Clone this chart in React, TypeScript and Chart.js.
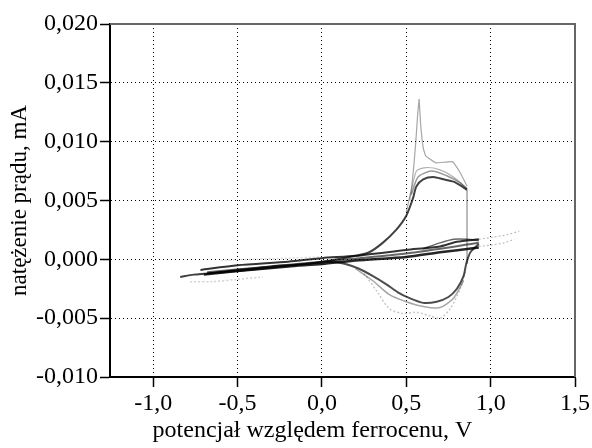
import React, { useEffect, useRef } from "react";
import { Chart, registerables } from "chart.js";

Chart.register(...registerables);

const X_TITLE = "potencjał względem ferrocenu, V";
const Y_TITLE = "natężenie prądu, mA";
const FONT = '"Liberation Serif", "Times New Roman", serif';

// main cycle: anodic sweep
const mainAnodicE = [-0.84, -0.76, -0.68, -0.5, -0.3, -0.1, 0.05, 0.2, 0.28, 0.36, 0.44, 0.5, 0.54, 0.56, 0.6, 0.66, 0.72, 0.78, 0.83, 0.86];
const mainAnodicI = [-0.0015, -0.0013, -0.0012, -0.0009, -0.0006, -0.0004, -0.0001, 0.0003, 0.0006, 0.0014, 0.0025, 0.0037, 0.0052, 0.0062, 0.0068, 0.007, 0.0068, 0.0066, 0.0062, 0.0059];
// switching edge
const switchE = [0.86, 0.86];
const switchI = [0.0059, -0.0004];
// main cycle: cathodic sweep
const mainCathodicE = [0.93, 0.88, 0.855, 0.84, 0.8, 0.75, 0.68, 0.6, 0.52, 0.45, 0.38, 0.3, 0.22, 0.14, 0.05, -0.1, -0.3, -0.5, -0.68];
const mainCathodicI = [0.0013, 0.0006, -0.0004, -0.0014, -0.0025, -0.0032, -0.0036, -0.0037, -0.0033, -0.0028, -0.0021, -0.0014, -0.0008, -0.0004, -0.0002, -0.0004, -0.0007, -0.001, -0.0012];
// dense band of background cycles
const bandUpperE = [-0.72, -0.5, -0.2, 0.0, 0.2, 0.5, 0.7, 0.8, 0.93];
const bandUpperI = [-0.0009, -0.0005, -0.0002, 0.0001, 0.0003, 0.0008, 0.0011, 0.0015, 0.0017];
const bandLowerE = [-0.7, -0.5, -0.2, 0.0, 0.2, 0.5, 0.7, 0.93];
const bandLowerI = [-0.0013, -0.001, -0.0006, -0.0004, -0.0001, 0.0002, 0.0006, 0.001];
const bandMidE = [-0.68, -0.3, 0.0, 0.5, 0.93];
const bandMidI = [-0.0011, -0.0006, -0.0002, 0.0005, 0.0014];
const bumpE = [0.6, 0.7, 0.78, 0.86, 0.93];
const bumpI = [0.0009, 0.0014, 0.0017, 0.0017, 0.0016];
// spike of first cycle
const spikeE = [0.5, 0.53, 0.545, 0.556, 0.566, 0.576, 0.585, 0.6, 0.615, 0.675, 0.773, 0.822, 0.861];
const spikeI = [0.004, 0.006, 0.008, 0.0099, 0.012, 0.0136, 0.0115, 0.0095, 0.0088, 0.0082, 0.0083, 0.0073, 0.0062];
// intermediate cycles on the anodic plateau
const plateauAE = [0.52, 0.56, 0.62, 0.7, 0.78, 0.86];
const plateauAI = [0.005, 0.0075, 0.0078, 0.0076, 0.007, 0.006];
const plateauBE = [0.53, 0.57, 0.65, 0.74, 0.82, 0.86];
const plateauBI = [0.0055, 0.007, 0.0075, 0.0071, 0.0065, 0.006];
// fainter cathodic cycles
const cathMidE = [0.2, 0.3, 0.4, 0.5, 0.6, 0.7, 0.78, 0.84];
const cathMidI = [-0.0008, -0.0018, -0.003, -0.0036, -0.004, -0.0041, -0.0033, -0.0018];
const cathLowE = [0.25, 0.33, 0.4, 0.48, 0.56, 0.64, 0.7, 0.76, 0.82, 0.85];
const cathLowI = [-0.0012, -0.0028, -0.0042, -0.0046, -0.0045, -0.0048, -0.005, -0.0042, -0.0025, -0.001];
// faint traces
const faintLowE = [-0.78, -0.65, -0.5, -0.35];
const faintLowI = [-0.0019, -0.0019, -0.0017, -0.0015];
const faintTopE = [-0.6, -0.4, -0.2, 0.0];
const faintTopI = [-0.0001, 0.0, 0.0001, 0.0002];
const tailUpE = [0.93, 1.02, 1.1, 1.17];
const tailUpI = [0.0017, 0.0019, 0.0021, 0.0024];
const tailLowE = [0.93, 1.0, 1.08, 1.14];
const tailLowI = [0.0011, 0.0012, 0.0014, 0.0017];

const pts = (e: number[], i: number[]) => e.map((v, k) => ({ x: v, y: i[k] }));

const ds = (e: number[], i: number[], color: string, width: number, tension = 0.25, dash: number[] = []) => ({
  data: pts(e, i),
  showLine: true,
  borderColor: color,
  backgroundColor: color,
  borderWidth: width,
  borderDash: dash,
  pointRadius: 0,
  tension,
  fill: false,
});

const fmt = (v: number, d: number) => (Math.abs(v) < 1e-9 ? 0 : v).toFixed(d).replace(".", ",");

export default function App() {
  const ref = useRef<HTMLCanvasElement | null>(null);

  useEffect(() => {
    if (!ref.current) return;
    const frame = {
      id: "frame",
      afterDraw(chart: any) {
        const { ctx, chartArea } = chart;
        ctx.save();
        ctx.strokeStyle = "#666";
        ctx.lineWidth = 2;
        ctx.beginPath();
        ctx.moveTo(chartArea.left, chartArea.top);
        ctx.lineTo(chartArea.right, chartArea.top);
        ctx.lineTo(chartArea.right, chartArea.bottom);
        ctx.stroke();
        ctx.fillStyle = "#000";
        ctx.font = `24px ${FONT}`;
        ctx.textAlign = "center";
        ctx.textBaseline = "alphabetic";
        ctx.fillText(X_TITLE, 312.5, 437);
        ctx.restore();
      },
    };
    const chart = new Chart(ref.current, {
      type: "scatter",
      data: {
        datasets: [
          ds(faintLowE, faintLowI, "rgba(0,0,0,0.18)", 1.5, 0.3, [2, 2]),
          ds(faintTopE, faintTopI, "rgba(0,0,0,0.15)", 1.5, 0.3, [2, 2]),
          ds(tailUpE, tailUpI, "rgba(0,0,0,0.25)", 1.2, 0.2, [2, 2]),
          ds(tailLowE, tailLowI, "rgba(0,0,0,0.25)", 1.2, 0.2, [2, 2]),
          ds(cathLowE, cathLowI, "rgba(0,0,0,0.22)", 1.5, 0.3, [2, 2]),
          ds(cathMidE, cathMidI, "rgba(0,0,0,0.35)", 1.5),
          ds(spikeE, spikeI, "rgba(0,0,0,0.35)", 1.2, 0.1),
          ds(plateauAE, plateauAI, "rgba(0,0,0,0.3)", 1.2),
          ds(plateauBE, plateauBI, "rgba(0,0,0,0.4)", 1.5),
          ds(switchE, switchI, "rgba(0,0,0,0.45)", 1.2, 0),
          ds(mainCathodicE, mainCathodicI, "rgba(0,0,0,0.7)", 2),
          ds(mainAnodicE, mainAnodicI, "rgba(0,0,0,0.75)", 2),
          ds(bumpE, bumpI, "rgba(0,0,0,0.6)", 1.5),
          ds(bandUpperE, bandUpperI, "rgba(0,0,0,0.8)", 2),
          ds(bandMidE, bandMidI, "rgba(0,0,0,0.6)", 2),
          ds(bandLowerE, bandLowerI, "rgba(0,0,0,0.85)", 2.5),
        ],
      },
      options: {
        animation: false,
        responsive: true,
        maintainAspectRatio: false,
        layout: { padding: { top: 24, right: 16.3, left: 0, bottom: 0 } },
        plugins: { legend: { display: false }, tooltip: { enabled: false }, title: { display: false } },
        scales: {
          x: {
            type: "linear",
            min: -1.256,
            max: 1.5,
            afterFit: (s: any) => { s.height = 71; },
            ticks: {
              stepSize: 0.5,
              includeBounds: false,
              padding: 2,
              color: "#000",
              font: { family: FONT, size: 24 },
              maxRotation: 0,
              callback: (v: any) => fmt(Number(v), 1),
            },
            grid: { color: "#000", lineWidth: 1, tickLength: 10, tickColor: "#000", tickWidth: 1.5, tickBorderDash: [] } as any,
            border: { display: true, color: "#000", width: 2, dash: [1, 3] },
          },
          y: {
            type: "linear",
            min: -0.01,
            max: 0.02,
            afterFit: (s: any) => { s.width = 110; },
            ticks: {
              stepSize: 0.005,
              padding: 2,
              color: "#000",
              font: { family: FONT, size: 24 },
              callback: (v: any) => fmt(Number(v), 3),
            },
            grid: { color: "#000", lineWidth: 1, tickLength: 10, tickColor: "#000", tickWidth: 1.5, tickBorderDash: [] } as any,
            border: { display: true, color: "#000", width: 2, dash: [1, 3] },
            title: { display: true, text: Y_TITLE, color: "#000", font: { family: FONT, size: 23 }, padding: { top: 6, bottom: 0 } },
          },
        },
      },
      plugins: [frame],
    });
    return () => chart.destroy();
  }, []);

  return (
    <div style={{ position: "absolute", left: 0, top: 0, width: 592, height: 448 }}>
      <canvas ref={ref} />
    </div>
  );
}
